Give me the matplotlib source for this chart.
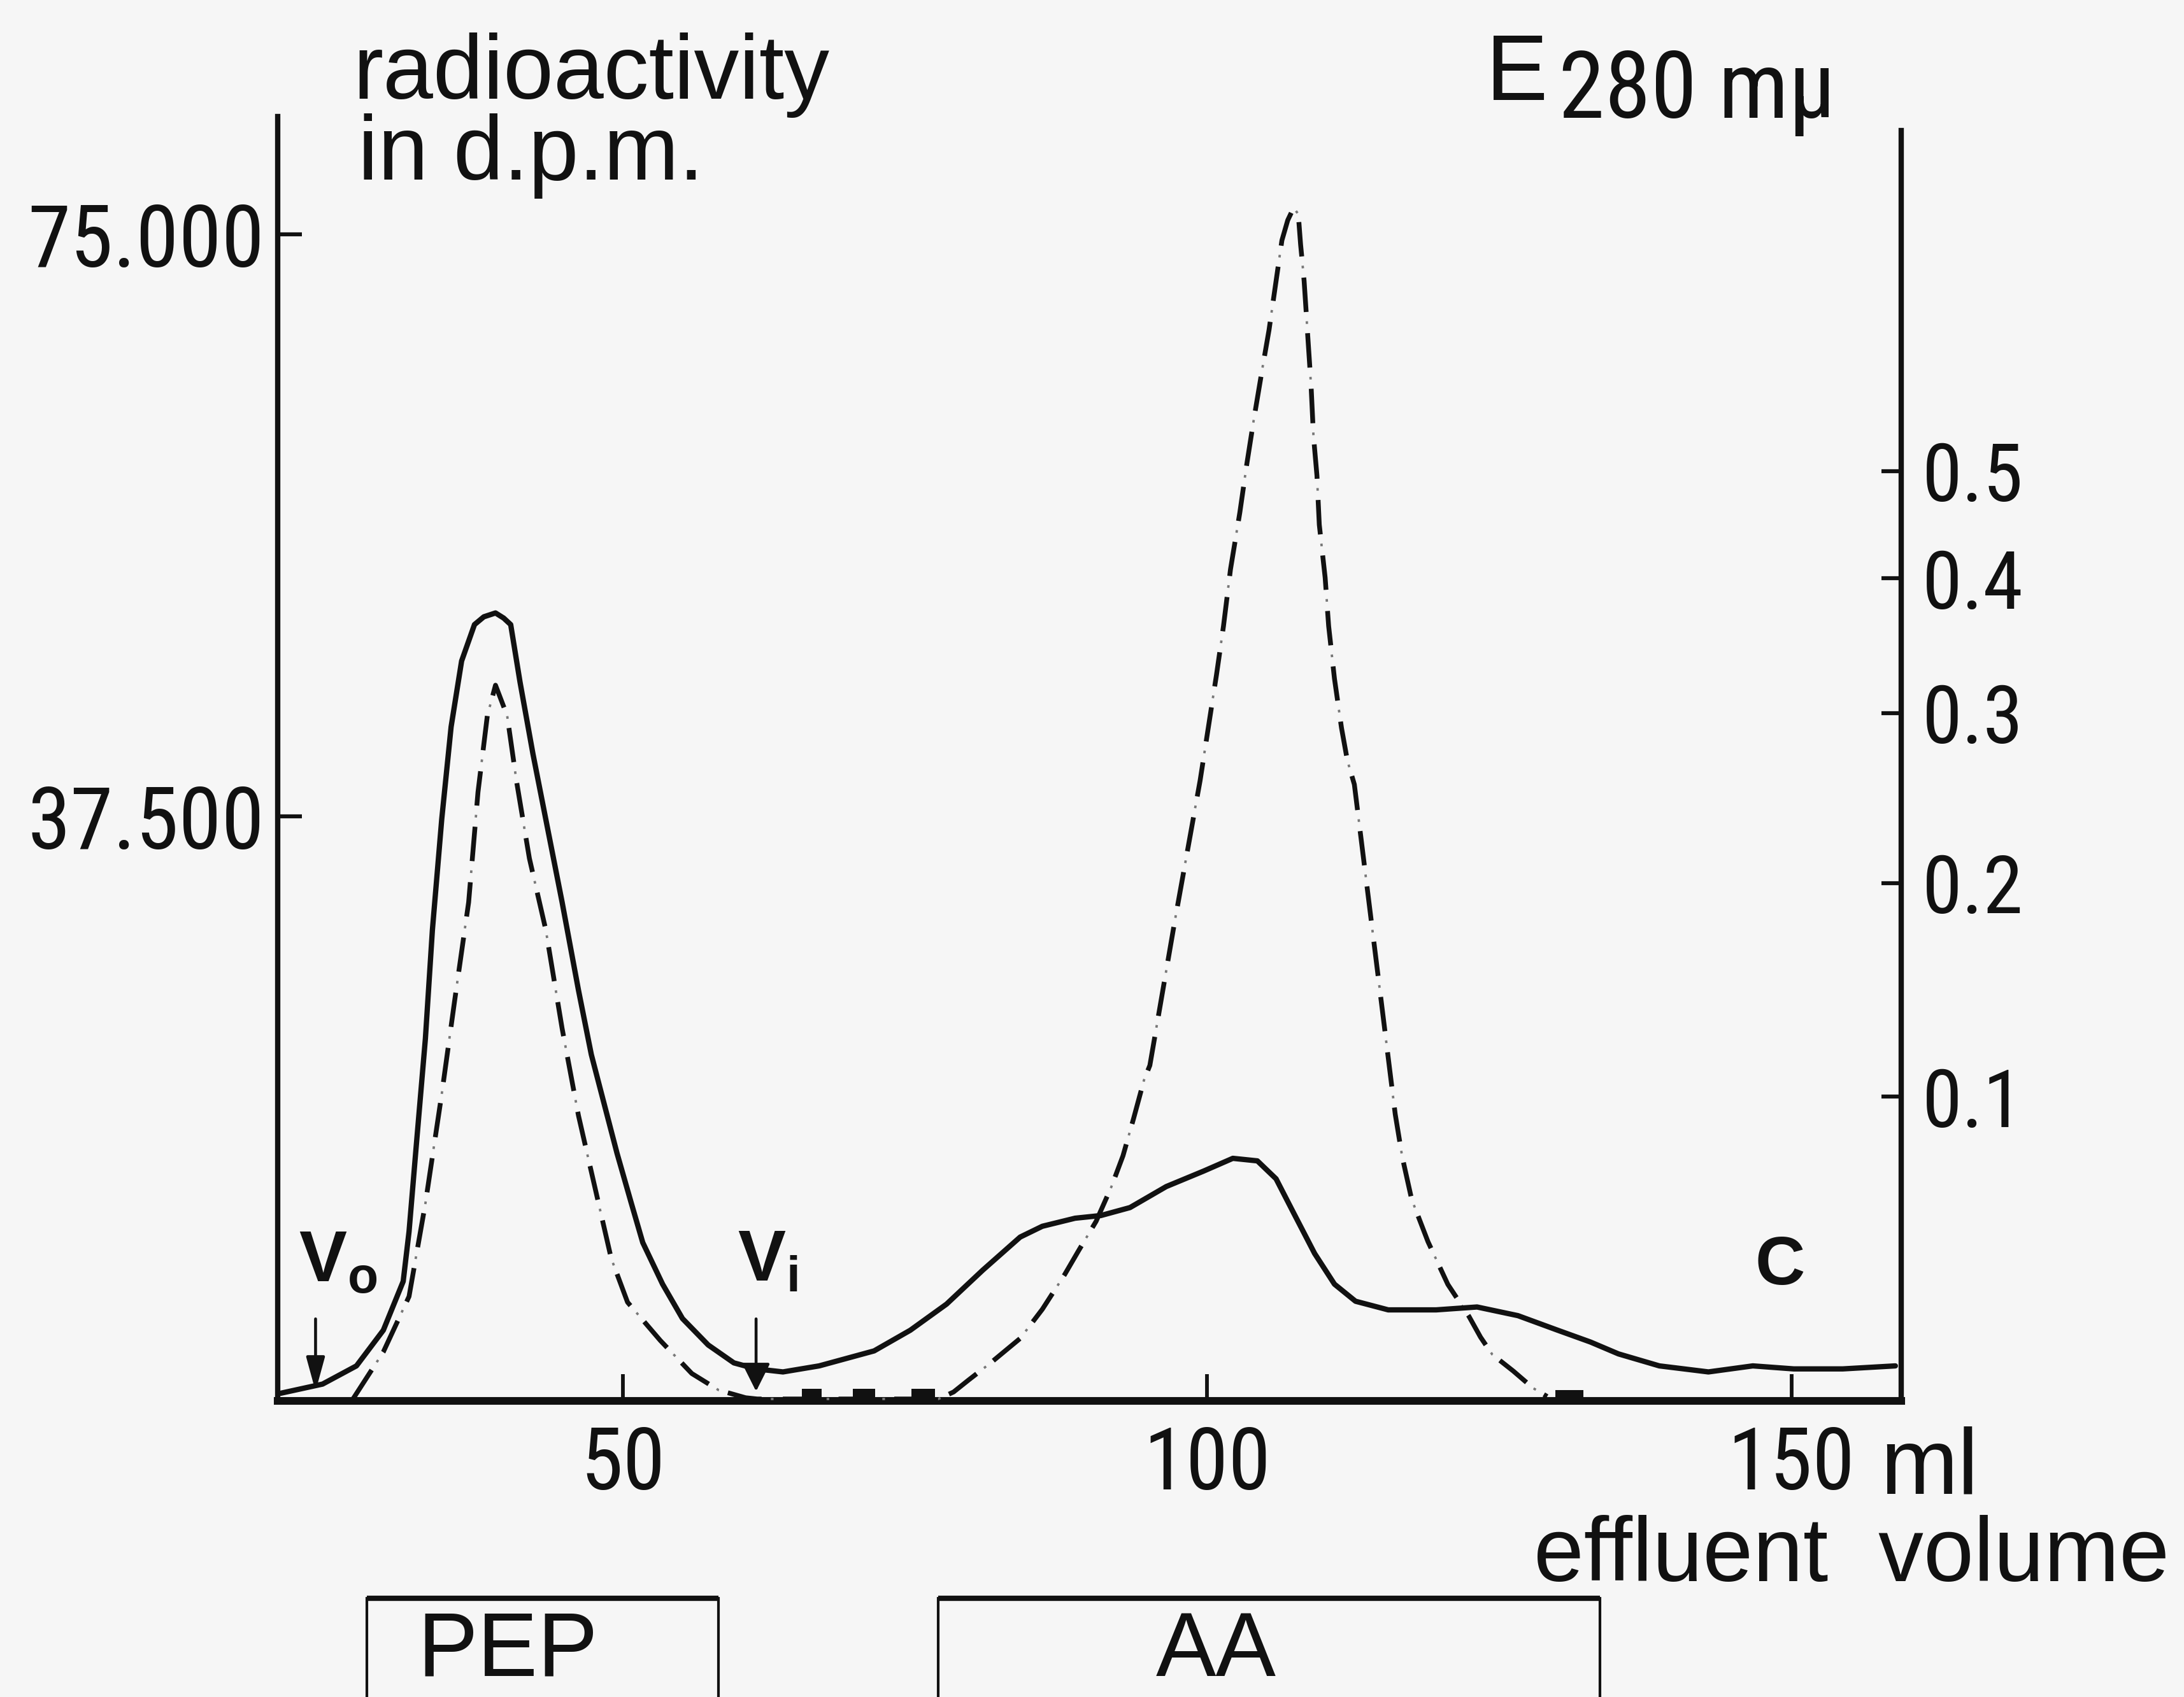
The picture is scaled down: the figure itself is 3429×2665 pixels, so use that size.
import numpy as np
import matplotlib
matplotlib.use("Agg")
import matplotlib.pyplot as plt
from matplotlib import font_manager as fm
from matplotlib.textpath import TextToPath
from matplotlib.lines import Line2D
from matplotlib.patches import FancyArrowPatch, Rectangle
from matplotlib.transforms import blended_transform_factory

plt.rcParams['lines.scale_dashes'] = False
plt.rcParams['mathtext.fontset'] = 'custom'
plt.rcParams['mathtext.rm'] = 'Liberation Sans'
plt.rcParams['mathtext.bf'] = 'Liberation Sans:bold'

# ---------------------------------------------------------------- data
# Extinction at 280 mu (solid trace, right axis) against effluent volume (ml)
e280_volume = [20.7, 24.3, 27.2, 29.5, 31.2, 31.7, 32.3, 33.1, 33.7, 34.5,
               35.3, 36.2, 37.3, 38.1, 39.1, 39.8, 40.4, 41.2, 42.3, 43.4,
               44.8, 46.2, 47.3, 48.4, 49.5, 50.7, 51.7, 53.4, 55.1, 57.3,
               59.5, 61.4, 63.7, 66.8, 71.5, 74.6, 77.7, 80.8, 84.0, 85.9,
               88.7, 90.9, 93.4, 96.5, 99.7, 102.2, 104.3, 105.9, 107.4, 109.2,
               110.9, 112.7, 115.5, 119.6, 123.1, 126.6, 130.0, 132.8, 135.2, 138.7,
               142.9, 146.7, 150.2, 154.4, 158.9]
e280_value = [-0.009, -0.006, 0.000, 0.012, 0.029, 0.047, 0.079, 0.125, 0.176, 0.235,
              0.291, 0.336, 0.363, 0.369, 0.372, 0.368, 0.363, 0.321, 0.274, 0.235,
              0.190, 0.147, 0.118, 0.097, 0.077, 0.058, 0.043, 0.028, 0.016, 0.007,
              0.001, -0.001, -0.002, 0.000, 0.005, 0.012, 0.021, 0.033, 0.045, 0.049,
              0.052, 0.053, 0.056, 0.064, 0.070, 0.075, 0.074, 0.067, 0.054, 0.039,
              0.028, 0.022, 0.019, 0.019, 0.020, 0.017, 0.012, 0.008, 0.004, 0.000,
              -0.002, 0.000, -0.001, -0.001, 0.000]

# Radioactivity in d.p.m. (dash-dot trace, left axis)
dpm_volume = [26.9, 29.5, 31.7, 33.1, 34.5, 35.6, 36.8, 37.6, 38.4, 39.1,
              40.1, 40.9, 42.0, 43.4, 44.8, 46.2, 47.6, 49.0, 50.4, 53.2,
              55.9, 58.2, 60.5, 61.5, 77.0, 78.3, 79.6, 81.5, 84.0, 85.9,
              87.8, 89.0, 90.5, 91.8, 92.8, 93.7, 94.6, 95.1, 97.2, 99.4,
              100.1, 100.8, 101.4, 102.0, 102.8, 103.4, 104.0, 104.7, 105.3, 105.9,
              106.4, 106.9, 107.4, 107.8, 108.0, 108.3, 108.6, 108.9, 109.1, 109.4,
              109.6, 110.1, 110.4, 110.9, 111.5, 112.0, 112.6, 116.1, 116.7, 117.5,
              118.9, 120.6, 122.4, 123.4, 124.4, 126.2, 127.9, 129.1]
dpm_value = [0, 3030, 6600, 12590, 19640, 25630, 31980, 39070, 43990, 45960,
             43990, 39770, 34810, 30220, 23860, 18250, 13650, 9060, 6230, 3770,
             1640, 570, 80, 0, 0, 450, 1230, 2340, 3900, 5780,
             8000, 9550, 11440, 13650, 15660, 18040, 20540, 21480, 30630, 39820,
             43220, 46620, 49760, 53420, 57080, 60220, 63090, 66230, 68840, 71980,
             74600, 75900, 76690, 76300, 74330, 72000, 68590, 65190, 62030, 59450,
             56290, 52890, 49770, 46370, 43210, 41120, 39570, 18330, 15580, 12870,
             10130, 7380, 5330, 3980, 2870, 1800, 700, 160]

# Low background counts marked as blocks on the baseline
block_start = [65.3, 69.7, 74.7, 129.8]
block_end = [67.0, 71.6, 76.7, 132.2]
block_dpm = [650, 650, 650, 560]

# Void volume / inner volume markers
marker_labels = [r"$\mathbf{V_o}$", r"$\mathbf{V_i}$"]
marker_volume = [23.7, 61.4]

# Pooled fractions
pool_names = ["PEP", "AA"]
pool_start = [28.1, 77.0]
pool_end = [58.2, 133.6]

x_ticks = [50, 100, 150]
x_tick_labels = ["50", "100", "150"]
dpm_ticks = [37500, 75000]
dpm_tick_labels = ["37.500", "75.000"]
e_ticks = [0.1, 0.2, 0.3, 0.4, 0.5]
e_tick_labels = ["0.1", "0.2", "0.3", "0.4", "0.5"]

# ---------------------------------------------------------------- fonts
W, H = 3429, 2665
DPI = 300
INK = "#111111"
PAPER = "#f6f6f6"
WORD_FONT = ["Liberation Sans", "DejaVu Sans"]


def _font_file(family, **kw):
    try:
        return fm.findfont(fm.FontProperties(family=family, **kw), fallback_to_default=False)
    except Exception:
        return None


def pick_number_font():
    for fam, kw in [("Liberation Sans Narrow", {}), ("Roboto Condensed", {}),
                    ("DejaVu Sans", {"stretch": "condensed"}),
                    ("Open Sans", {"stretch": "condensed"})]:
        path = _font_file(fam, **kw)
        if path and ("Narrow" in path or "condensed" in path.lower()):
            return fam, kw
    return "Liberation Sans", {}


NUM_FAMILY, NUM_KW = pick_number_font()
_t2p = TextToPath()


def text_width_px(s, family, size, **kw):
    prop = fm.FontProperties(family=family, size=size, **kw)
    w, _, _ = _t2p.get_text_width_height_descent(s, prop, ismath=False)
    return w * DPI / 72.0


def fit_size(labels, target_px, max_pt, family=NUM_FAMILY, **kw):
    widest = max(text_width_px(s, family, max_pt, **kw) for s in labels)
    return min(max_pt, max_pt * target_px / widest)


def fx(px):
    return px / W


def fy(py):
    return 1 - py / H


# ---------------------------------------------------------------- axes
fig = plt.figure(figsize=(W / DPI, H / DPI), dpi=DPI, facecolor=PAPER)
ax_left, ax_right, ax_top, ax_bot = 436, 2985, 183, 2200
ax = fig.add_axes([fx(ax_left), fy(ax_bot), fx(ax_right - ax_left), (ax_bot - ax_top) / H])
ax.set_facecolor("none")
ax.set_xlim(20.46, 159.4)
ax.set_ylim(-123, 82575)


# extinction axis: linear in transmission
def to_trans(e):
    return 1 - np.power(10.0, -np.asarray(e, dtype=float))


def from_trans(t):
    return -np.log10(np.clip(1 - np.asarray(t, dtype=float), 1e-9, None))


ax2 = ax.twinx()
ax2.set_yscale("function", functions=(to_trans, from_trans))
ax2.set_ylim(-0.01147, 1.3443)

for s in ["top", "right"]:
    ax.spines[s].set_visible(False)
for s in ["top", "left", "bottom"]:
    ax2.spines[s].set_visible(False)
ax.spines["left"].set_linewidth(2.0)
ax.spines["left"].set_color(INK)
ax.spines["bottom"].set_linewidth(2.9)
ax.spines["bottom"].set_color(INK)
ax2.spines["right"].set_linewidth(2.0)
ax2.spines["right"].set_color(INK)
ax2.spines["right"].set_bounds(-0.01147, 1.2523)

# traces
ax.plot(dpm_volume, dpm_value, color=INK, lw=1.8,
        linestyle=(0, (13, 8)), dash_capstyle="butt", dash_joinstyle="round", zorder=3)
ax.plot(dpm_volume, dpm_value, color="#777777", lw=0.9,
        linestyle=(4.5, (1, 20)), zorder=3)
ax2.plot(e280_volume, e280_value, color=INK, lw=2.0,
         solid_joinstyle="round", solid_capstyle="round", zorder=3)

for a, b, h in zip(block_start, block_end, block_dpm):
    ax.add_patch(Rectangle((a, 0), b - a, h, color=INK, lw=0, zorder=2))

# ticks
num_font = dict(fontfamily=NUM_FAMILY, **({"fontstretch": NUM_KW["stretch"]} if NUM_KW else {}))
x_size = fit_size(x_tick_labels, 200, 36, **NUM_KW)
dpm_size = fit_size(dpm_tick_labels, 372, 34, **NUM_KW)
e_size = fit_size(["0.5"], 159, 33, **NUM_KW)

ax.set_xticks(x_ticks, labels=x_tick_labels, fontsize=x_size, **num_font)
ax.tick_params(axis="x", direction="in", length=10, width=1.4, pad=9, colors=INK)
ax.set_yticks(dpm_ticks, labels=dpm_tick_labels, fontsize=dpm_size, **num_font)
ax.tick_params(axis="y", direction="in", length=9, width=1.5, pad=5, colors=INK)
ax2.set_yticks(e_ticks, labels=e_tick_labels, fontsize=e_size, **num_font)
ax2.tick_params(axis="y", direction="in", length=7.5, width=1.5, pad=8, colors=INK)
ax2.minorticks_off()

# void / inner volume arrows
arrow_heads = [(11, 3.0), (9, 4.5)]
for vol, (hl, hw) in zip(marker_volume, arrow_heads):
    arr = FancyArrowPatch((vol, 5500), (vol, 150),
                          arrowstyle="-|>,head_length=%g,head_width=%g" % (hl, hw),
                          mutation_scale=1, lw=1.1, color=INK, zorder=4)
    ax.add_patch(arr)


def px_to_data(px, py):
    return 50 + (px - 978) / 18.35, (2197 - py) * 41.0


label_pos = [(469, 2013), (1158, 2010)]
for (vx, vy), lab in zip(label_pos, marker_labels):
    x0, y0 = px_to_data(vx, vy)
    ax.text(x0, y0, lab, fontsize=27, ha="left", va="baseline", color=INK)

cx, cy = px_to_data(2795, 2017)
ax.text(cx, cy, "C", fontfamily=WORD_FONT, fontsize=26, fontweight="bold",
        ha="center", va="baseline", color=INK)

# axis titles
fig.text(fx(554), fy(155), "radioactivity", fontfamily=WORD_FONT, fontsize=34,
         ha="left", va="baseline", color=INK)
fig.text(fx(562), fy(282), "in d.p.m.", fontfamily=WORD_FONT, fontsize=34,
         ha="left", va="baseline", color=INK)
fig.text(fx(2333), fy(157), "E", fontfamily=WORD_FONT, fontsize=35,
         ha="left", va="baseline", color=INK)
unit_size = fit_size(["280 m\u03bc"], 435, 36, **NUM_KW)
fig.text(fx(2447), fy(185), "280 m\u03bc", fontsize=unit_size,
         ha="left", va="baseline", color=INK, **num_font)
fig.text(fx(2952), fy(2345), "ml", fontfamily=WORD_FONT, fontsize=35,
         ha="left", va="baseline", color=INK)
fig.text(fx(2408), fy(2483), "effluent  volume", fontfamily=WORD_FONT, fontsize=34,
         ha="left", va="baseline", color=INK)

# pooled fraction boxes under the axis
pool_tf = blended_transform_factory(ax.transData, fig.transFigure)
box_top = fy(2510)
for name, a, b in zip(pool_names, pool_start, pool_end):
    fig.add_artist(Line2D([a, b], [box_top, box_top], transform=pool_tf,
                          color=INK, lw=2.0, solid_capstyle="butt", clip_on=False))
    for xv in (a, b):
        fig.add_artist(Line2D([xv, xv], [box_top, -0.02], transform=pool_tf,
                              color=INK, lw=1.0, clip_on=False))
    label_x = a + 0.4 * (b - a) if name == "PEP" else a + 0.42 * (b - a)
    fig.text(label_x, fy(2632), name, transform=pool_tf, fontfamily=WORD_FONT,
             fontsize=34, ha="center", va="baseline", color=INK)

fig.savefig("out.png", dpi=DPI, facecolor=PAPER)
